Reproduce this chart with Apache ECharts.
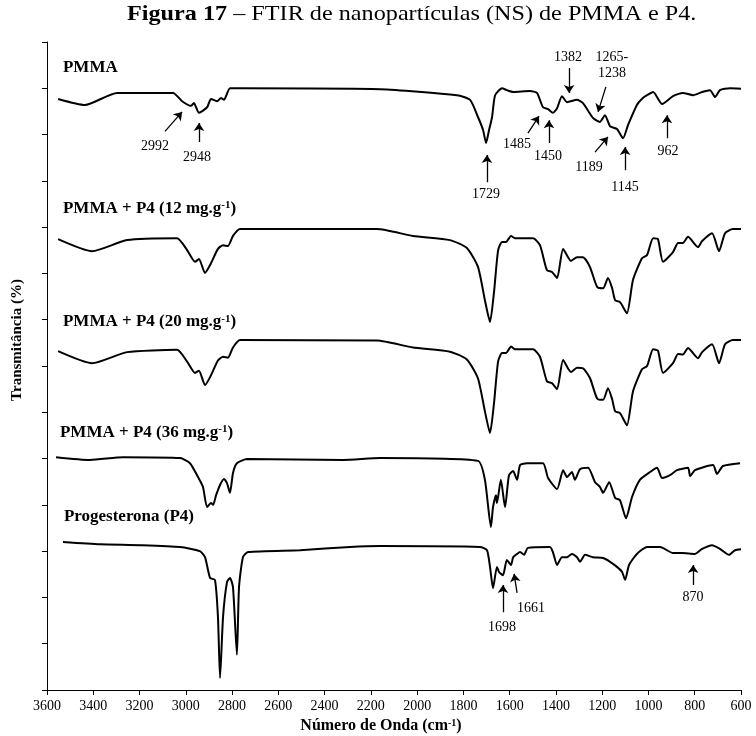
<!DOCTYPE html>
<html><head><meta charset="utf-8">
<script src="https://cdn.jsdelivr.net/npm/echarts@6/dist/echarts.min.js"></script>
<style>html,body{margin:0;padding:0;background:#fff}#c{width:756px;height:736px}</style>
</head><body><div id="c"></div>
<script>
// Wavenumber (cm-1) vs stacked transmittance (offset units)
const pmma = [[3552,12.77],[3436,12.64],[3297,12.90],[3055,12.90],[3016,12.72],[2978,12.62],[2965,12.68],[2943,12.47],[2908,12.59],[2891,12.77],[2865,12.72],[2848,12.79],[2835,12.75],[2809,13.00],[2766,13.00],[2160,12.98],[1828,12.85],[1771,12.75],[1737,12.38],[1715,12.10],[1702,11.82],[1689,12.10],[1676,12.38],[1663,12.85],[1633,13.00],[1612,12.96],[1585,12.92],[1512,12.94],[1482,12.90],[1456,12.59],[1434,12.55],[1413,12.47],[1395,12.57],[1374,12.83],[1352,12.70],[1309,12.75],[1283,12.68],[1240,12.36],[1210,12.27],[1188,12.42],[1166,12.18],[1136,12.12],[1110,11.92],[1088,12.21],[1050,12.64],[1024,12.79],[1006,12.85],[980,12.92],[941,12.66],[894,12.83],[851,12.90],[807,12.85],[768,12.92],[734,12.96],[712,12.81],[691,12.96],[648,13.00],[600,12.99]];
const p4_12 = [[3552,9.74],[3405,9.48],[3254,9.72],[3038,9.76],[2995,9.51],[2960,9.25],[2943,9.31],[2917,9.01],[2895,9.18],[2861,9.53],[2839,9.61],[2818,9.59],[2796,9.81],[2766,9.96],[2173,9.96],[2018,9.81],[1858,9.72],[1785,9.55],[1737,9.14],[1707,8.42],[1685,7.95],[1668,8.58],[1650,9.50],[1633,9.68],[1616,9.68],[1594,9.81],[1577,9.76],[1499,9.76],[1469,9.61],[1439,9.07],[1417,9.03],[1395,8.90],[1369,9.53],[1335,9.27],[1309,9.35],[1283,9.35],[1253,9.14],[1222,8.71],[1196,8.68],[1175,8.90],[1157,8.68],[1144,8.42],[1123,8.38],[1093,8.14],[1067,8.86],[1028,9.33],[1006,9.40],[980,9.76],[959,9.74],[937,9.25],[894,9.46],[872,9.66],[851,9.66],[829,9.79],[786,9.57],[768,9.70],[725,9.87],[695,9.48],[669,9.87],[635,9.96],[600,9.96]];
const p4_20 = [[3552,7.32],[3405,7.06],[3254,7.30],[3038,7.35],[2995,7.10],[2960,6.85],[2943,6.90],[2917,6.59],[2895,6.76],[2861,7.12],[2839,7.20],[2818,7.18],[2796,7.40],[2766,7.56],[2173,7.55],[2018,7.40],[1858,7.31],[1785,7.14],[1737,6.73],[1707,6.02],[1685,5.55],[1668,6.18],[1650,7.10],[1633,7.28],[1616,7.28],[1594,7.42],[1577,7.36],[1499,7.36],[1469,7.20],[1439,6.67],[1417,6.63],[1395,6.50],[1369,7.13],[1335,6.87],[1309,6.96],[1283,6.95],[1253,6.74],[1222,6.30],[1196,6.27],[1175,6.52],[1157,6.28],[1144,6.02],[1123,5.98],[1093,5.72],[1067,6.45],[1028,6.93],[1006,7.00],[980,7.36],[959,7.33],[937,6.85],[894,7.06],[872,7.26],[851,7.25],[829,7.39],[786,7.17],[768,7.30],[725,7.47],[695,7.06],[669,7.47],[635,7.56],[600,7.56]];
const p4_36 = [[3561,5.03],[3414,4.97],[3271,5.03],[3025,5.01],[2982,4.90],[2947,4.60],[2926,4.39],[2908,3.95],[2891,4.04],[2882,4.00],[2869,4.21],[2852,4.43],[2835,4.56],[2822,4.47],[2809,4.26],[2796,4.69],[2779,4.90],[2735,4.99],[2320,4.97],[2160,5.01],[1737,4.95],[1707,4.54],[1681,3.52],[1672,3.95],[1659,4.21],[1655,4.04],[1638,4.54],[1620,3.95],[1603,4.64],[1585,4.73],[1568,4.54],[1555,4.86],[1525,4.90],[1456,4.90],[1434,4.58],[1395,4.34],[1369,4.75],[1352,4.60],[1331,4.71],[1318,4.54],[1296,4.77],[1261,4.80],[1231,4.49],[1210,4.39],[1196,4.26],[1170,4.49],[1144,4.15],[1123,4.10],[1097,3.71],[1071,4.17],[1037,4.54],[993,4.71],[963,4.80],[941,4.58],[907,4.64],[877,4.75],[829,4.80],[820,4.62],[799,4.75],[721,4.86],[704,4.67],[678,4.84],[604,4.90]];
const progesterona = [[3531,3.20],[3371,3.15],[3198,3.13],[3025,3.09],[2939,3.00],[2917,2.87],[2895,2.42],[2874,2.38],[2861,1.58],[2852,0.26],[2839,1.58],[2822,2.33],[2809,2.42],[2796,2.22],[2779,0.76],[2770,2.22],[2753,2.87],[2731,2.98],[2506,3.02],[2290,3.09],[2160,3.11],[1728,3.09],[1698,3.02],[1685,2.66],[1672,2.20],[1655,2.66],[1646,2.55],[1629,2.48],[1612,2.81],[1594,2.70],[1585,2.87],[1568,2.94],[1555,2.98],[1538,2.92],[1521,3.07],[1426,3.09],[1413,2.98],[1395,2.70],[1374,2.87],[1352,2.87],[1331,2.94],[1309,2.87],[1296,2.77],[1274,2.92],[1240,2.87],[1196,2.85],[1166,2.77],[1136,2.66],[1114,2.55],[1101,2.38],[1084,2.70],[1050,2.94],[1006,3.09],[950,3.09],[894,2.96],[856,2.96],[799,2.94],[768,3.05],[725,3.13],[691,3.05],[652,2.92],[626,3.02],[600,3.04]];

const curveNames = ['PMMA','PMMA + P4 (12 mg.g-1)','PMMA + P4 (20 mg.g-1)','PMMA + P4 (36 mg.g-1)','Progesterona (P4)'];
const curveLabels = ['{b|PMMA}','{b|PMMA + P4 (12 mg.g}{s|-1}{b|)}','{b|PMMA + P4 (20 mg.g}{s|-1}{b|)}','{b|PMMA + P4 (36 mg.g}{s|-1}{b|)}','{b|Progesterona (P4)}'];
const curveLabelAt = [[3531,13.44],[3531,10.41],[3531,7.95],[3544,5.57],[3527,3.74]];

const peakTexts = ['2992','2948','1729','1485','1450','1382','1265-\n1238','1189','1145','962','1698','1661','870'];
const peakTextAt = [[3133,11.75],[2952,11.51],[1702,10.71],[1568,11.79],[1434,11.54],[1348,13.67],[1158,13.50],[1257,11.30],[1101,10.87],[916,11.64],[1633,1.36],[1508,1.77],[807,2.01]];
const arrowFrom = [[3090,12.07],[2943,11.84],[1698,10.97],[1521,12.03],[1430,11.82],[1343,13.44],[1184,13.03],[1231,11.62],[1101,11.23],[920,11.92],[1629,1.68],[1568,2.10],[807,2.27]];
const arrowTo = [[3016,12.49],[2943,12.25],[1698,11.56],[1473,12.40],[1430,12.31],[1343,12.90],[1218,12.49],[1175,11.95],[1101,11.73],[920,12.42],[1629,2.27],[1581,2.51],[807,2.70]];

const FONT = 'Liberation Serif, Times New Roman, serif';
const chart = echarts.init(document.getElementById('c'), null, {renderer:'canvas'});
const curves = [pmma, p4_12, p4_20, p4_36, progesterona];

const series = curves.map((d,i)=>({
  name: curveNames[i], type:'line', data:d, showSymbol:false, smooth:0.2,
  lineStyle:{color:'#000', width:2}, itemStyle:{color:'#000'}, silent:true, z:3
}));
series.push({
  type:'scatter', symbolSize:0, silent:true, z:5, itemStyle:{opacity:1, color:'#000'},
  data: curveLabelAt.map((p,i)=>({value:p, label:{formatter:curveLabels[i]}})),
  label:{show:true, position:'right', distance:0, color:'#000', opacity:1,
    rich:{b:{fontFamily:FONT,fontWeight:'bold',fontSize:17,color:'#000'},
          s:{fontFamily:FONT,fontWeight:'bold',fontSize:11,color:'#000',verticalAlign:'top'}}}
});
series.push({
  type:'scatter', symbolSize:0, silent:true, z:5, itemStyle:{opacity:1, color:'#000'},
  data: peakTextAt.map((p,i)=>({value:p, label:{formatter:peakTexts[i]}})),
  label:{show:true, position:'inside', color:'#000', opacity:1, fontFamily:FONT, fontSize:14, lineHeight:16}
});
series.push({
  type:'lines', coordinateSystem:'cartesian2d', silent:true, z:4,
  symbol:['none','arrow'], symbolSize:8,
  lineStyle:{color:'#000', width:1.3, opacity:1, curveness:0},
  data: arrowFrom.map((f,i)=>({coords:[f, arrowTo[i]]}))
});

chart.setOption({
  animation:false,
  backgroundColor:'#fff',
  grid:{left:47, right:15, top:42, bottom:46},
  xAxis:{
    type:'value', inverse:true, min:600, max:3600, interval:200,
    axisLine:{show:true, lineStyle:{color:'#000', width:1}},
    axisTick:{show:true, inside:false, length:5, lineStyle:{color:'#000'}},
    axisLabel:{color:'#000', fontFamily:FONT, fontSize:14, margin:9, formatter:(v)=>String(v)},
    splitLine:{show:false}
  },
  yAxis:{
    type:'value', min:0, max:14, interval:1,
    axisLine:{show:true, lineStyle:{color:'#000', width:1}},
    axisTick:{show:true, inside:false, length:5, lineStyle:{color:'#000'}},
    axisLabel:{show:false}, splitLine:{show:false}
  },
  graphic:[
    {type:'text', x:127, y:14, scaleX:1.1,
      style:{text:'{b|Figura 17} – FTIR de nanopartículas (NS) de PMMA e P4.', fill:'#000',
        font:'22px '+FONT, align:'left', verticalAlign:'middle',
        rich:{b:{font:'bold 22px '+FONT, fill:'#000'}}}},
    {type:'text', x:17, y:340, rotation:Math.PI/2,
      style:{text:'Transmitância (%)', fill:'#000', font:'bold 15px '+FONT, align:'center', verticalAlign:'middle'}},
    {type:'text', x:381, y:726,
      style:{text:'{b|Número de Onda (cm}{s|-1}{b|)}', fill:'#000', align:'center', verticalAlign:'middle',
        rich:{b:{font:'bold 16px '+FONT, fill:'#000'}, s:{font:'bold 10px '+FONT, fill:'#000', verticalAlign:'top'}}}}
  ],
  series: series
});
</script></body></html>
